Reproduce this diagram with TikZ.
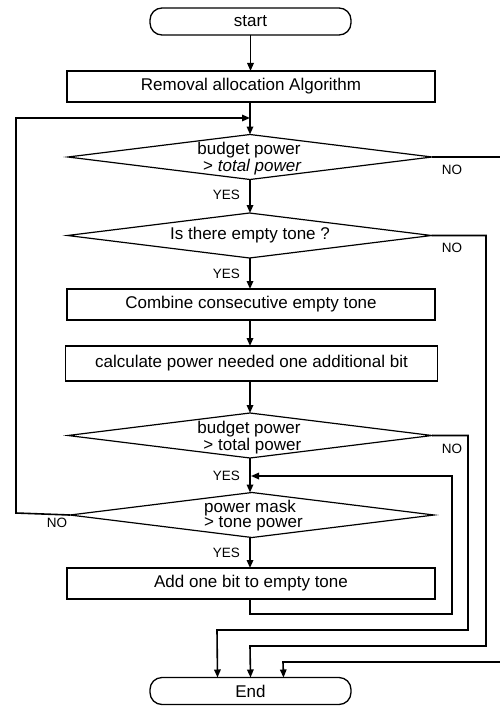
\documentclass[tikz,border=0pt]{standalone}
\usepackage{fontspec}
\setmainfont{Liberation Sans}
\usetikzlibrary{arrows.meta,shapes.geometric}
\begin{document}
\begin{tikzpicture}[x=1pt,y=-1pt,
  every node/.style={inner sep=0pt,outer sep=0pt},
  main/.style={font=\fontsize{17}{15.5}\selectfont,align=center},
  small/.style={font=\fontsize{13.5}{14}\selectfont},
  term/.style={draw,line width=1.3pt,rounded corners=12pt,minimum width=201pt,minimum height=27pt,main},
  proc/.style={draw,line width=1.2pt,minimum width=368pt,minimum height=31pt,main},
  dec/.style={draw,line width=1.2pt,diamond,minimum width=364pt,minimum height=45pt},
  dtext/.style={main},
  conn/.style={line width=1.6pt},
  arr/.style={conn,-{Triangle[length=8pt,width=6.5pt]}}]
\useasboundingbox (0,0) rectangle (499,706);
\node[term] (start) at (250.5,21.5) {start};
\node[proc] (b1) at (251,86.5) {Removal allocation Algorithm};
\node[dec] (d1) at (250,157) {};
\node[dtext] (t1) at (249,159) {budget power\\ \hspace*{0.4em}> \textit{total power}};
\node[dec] (d2) at (249.5,235.5) {};
\node[dtext] (t2) at (250,235.5) {Is there empty tone ?};
\node[proc] (b2) at (251,304.5) {Combine consecutive empty tone};
\node[proc,minimum width=372pt,minimum height=35pt] (b3) at (251.5,363.5) {calculate power needed one additional bit};
\node[dec] (d3) at (250,435.5) {};
\node[dtext] (t3) at (249,437.5) {budget power\\ \hspace*{0.4em}> total power};
\node[dec] (d4) at (252,515) {};
\node[dtext] (t4) at (250,515.5) {power mask\\ \hspace*{0.4em}> tone power};
\node[proc] (b4) at (251,583.5) {Add one bit to empty tone};
\node[term] (end) at (250.5,691) {End};
% labels
\node[small,anchor=east] (y1) at (240,195) {YES};
\node[small,anchor=east] (y2) at (240,274) {YES};
\node[small,anchor=east] (y3) at (240,476) {YES};
\node[small,anchor=east] (y4) at (240,553) {YES};
\node[small] (n1) at (452,170) {NO};
\node[small] (n2) at (452,248) {NO};
\node[small] (n3) at (452,449) {NO};
\node[small] (n4) at (57,523) {NO};
% coordinates on main line
\coordinate (m1) at (250,118);
\coordinate (m4) at (251,476);
% main flow
\draw[arr] (start.south) -- (start.south |- b1.north);
\draw[arr] (b1.south -| d1.north) -- (d1.north);
\draw[arr] (d1.south) -- (d2.north -| d1.south);
\draw[arr] (d2.south -| 250,0) -- (b2.north -| 250,0);
\draw[arr] (b2.south -| 250,0) -- (b3.north -| 250,0);
\draw[arr] (b3.south -| 250,0) -- (d3.north -| 250,0);
\draw[arr] (d3.south -| 250,0) -- (d4.north -| 250,0);
\draw[arr] (d4.south -| 250,0) -- (b4.north -| 250,0);
% loops
\draw[arr] (b4.south -| 250,0) -- (250,614) -- (452,614) -- (452,476) -- (m4);
\draw[arr] (d4.west) -- (16,513) -- (16,118) -- (m1);
% exits to End
\draw[arr] (d3.east) -- (468,435.5) -- (468,630) -- (217,630) -- ([xshift=-33pt]end.north);
\draw[arr] (d2.east) -- (486,235.5) -- (486,646) -- (250,646) -- (end.north);
\draw[arr] (d1.east) -- (515,157) -- (515,662) -- (283,662) -- ([xshift=33pt]end.north);
\end{tikzpicture}
\end{document}
